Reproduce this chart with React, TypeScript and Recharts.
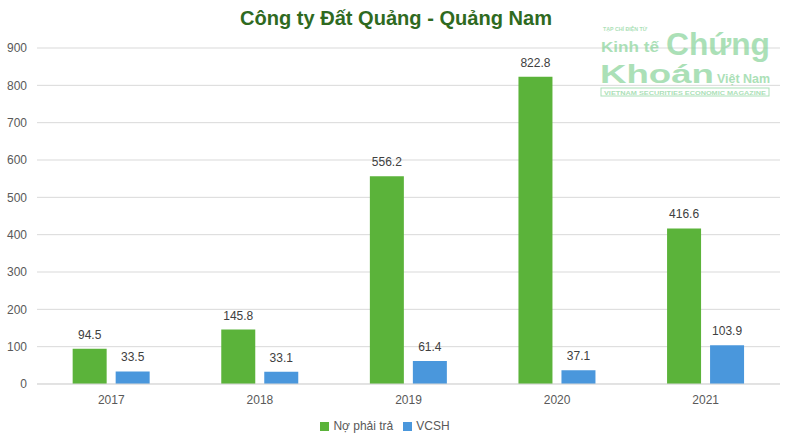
import { BarChart, Bar, XAxis, YAxis, CartesianGrid, Legend, LabelList } from "recharts"

const years = ["2017", "2018", "2019", "2020", "2021"]
const noPhaiTra = [94.5, 145.8, 556.2, 822.8, 416.6]
const vcsh = [33.5, 33.1, 61.4, 37.1, 103.9]
const yTicks = [0, 100, 200, 300, 400, 500, 600, 700, 800, 900]

const data = years.map((year, i) => ({
  year,
  debt: noPhaiTra[i],
  equity: vcsh[i],
}))

const font = "'Liberation Sans', Arial, sans-serif"

// faded magazine logo in the top right corner
function Watermark() {
  const c = "#8fd6a0"
  return (
    <g opacity={0.75} fontFamily={font} fontWeight="bold" fill={c}>
      <text x={603} y={31} fontSize={5} textLength={44} lengthAdjust="spacingAndGlyphs">TẠP CHÍ ĐIỆN TỬ</text>
      <text x={601} y={52} fontSize={15} textLength={58} lengthAdjust="spacingAndGlyphs">Kinh tế</text>
      <text x={666} y={55} fontSize={32} textLength={104} lengthAdjust="spacingAndGlyphs">Chứng</text>
      <text x={600} y={83} fontSize={26} textLength={114} lengthAdjust="spacingAndGlyphs">Khoán</text>
      <text x={717} y={83} fontSize={13} textLength={53} lengthAdjust="spacingAndGlyphs">Việt Nam</text>
      <rect x={601} y={88} width={168} height={8} fill="none" stroke={c} strokeWidth={1} />
      <text x={604} y={95} fontSize={6} textLength={162} lengthAdjust="spacingAndGlyphs">VIETNAM SECURITIES ECONOMIC MAGAZINE</text>
    </g>
  )
}

export default function App() {
  return (
    <div style={{ position: "absolute", left: 0, top: 0, width: 793, height: 446, background: "#fff" }}>
      <BarChart
        width={793}
        height={446}
        data={data}
        margin={{ top: 48, right: 13, left: 0, bottom: 0 }}
        barCategoryGap="24%"
        barGap={9}
      >
        <text
          x={396}
          y={25}
          textAnchor="middle"
          fontFamily={font}
          fontWeight="bold"
          fontSize={20}
          textLength={312}
          lengthAdjust="spacingAndGlyphs"
          fill="#2f6a1f"
        >
          Công ty Đất Quảng - Quảng Nam
        </text>
        <CartesianGrid vertical={false} stroke="#d9d9d9" />
        <XAxis
          dataKey="year"
          axisLine={{ stroke: "#d9d9d9" }}
          tickLine={false}
          tick={{ fill: "#595959", fontSize: 12, fontFamily: font }}
          tickMargin={5}
          height={30}
        />
        <YAxis
          domain={[0, 900]}
          ticks={yTicks}
          axisLine={false}
          tickLine={false}
          width={37}
          tick={{ fill: "#595959", fontSize: 12, fontFamily: font }}
          tickMargin={4}
        />
        <Legend
          verticalAlign="bottom"
          align="center"
          iconType="square"
          iconSize={9}
          height={32}
          wrapperStyle={{ fontFamily: font, fontSize: 12, color: "#595959", top: 419 }}
          formatter={(v) => <span style={{ color: "#595959" }}>{v}</span>}
        />
        <Bar dataKey="debt" name="Nợ phải trả" fill="#5bb33a" isAnimationActive={false}>
          <LabelList dataKey="debt" position="top" offset={10} fill="#404040" fontSize={12} fontFamily={font} />
        </Bar>
        <Bar dataKey="equity" name="VCSH" fill="#4a97dc" isAnimationActive={false}>
          <LabelList dataKey="equity" position="top" offset={10} fill="#404040" fontSize={12} fontFamily={font} />
        </Bar>
        <Watermark />
      </BarChart>
    </div>
  )
}
